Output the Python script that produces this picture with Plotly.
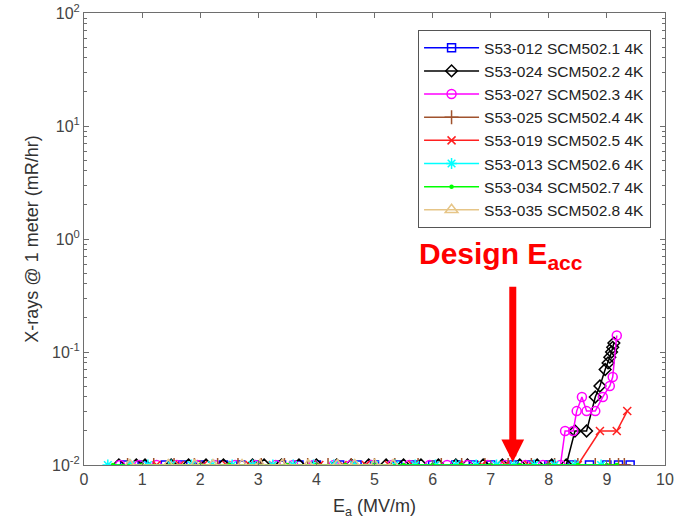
import plotly.graph_objects as go

# ---- data (Eacc in MV/m, X-rays in mR/hr at 1 m) ----
names = ["S53-012 SCM502.1 4K", "S53-024 SCM502.2 4K", "S53-027 SCM502.3 4K",
         "S53-025 SCM502.4 4K", "S53-019 SCM502.5 4K", "S53-013 SCM502.6 4K",
         "S53-034 SCM502.7 4K", "S53-035 SCM502.8 4K"]

e_012 = [0.7, 1.0, 1.4, 1.7, 2.0, 2.4, 2.7, 3.0, 3.4, 3.7, 4.0, 4.4, 4.7, 5.0, 5.4,
         5.7, 6.0, 6.4, 6.7, 7.0, 7.4, 7.7, 8.0, 8.4, 8.7, 9.0, 9.2, 9.4]
x_012 = [0.01] * len(e_012)

e_024 = [0.6, 0.9, 1.05, 1.5, 1.8, 2.1, 2.4, 2.9, 3.1, 3.4, 3.7, 4.0, 4.35, 4.6, 4.9,
         5.2, 5.5, 5.8, 6.1, 6.4, 6.6, 6.87, 7.2, 7.5, 7.8, 8.05, 8.3,
         8.45, 8.65, 8.8, 8.88, 8.97, 9.02, 9.05, 9.08, 9.1, 9.12]
x_024 = [0.01] * 27 + [0.02, 0.02, 0.04, 0.05, 0.07, 0.08, 0.09, 0.10, 0.11, 0.12]

e_027 = [0.62, 0.95, 1.25, 1.6, 1.95, 2.25, 2.6, 2.95, 3.3, 3.6, 3.95, 4.3, 4.6, 4.95,
         5.3, 5.6, 5.95, 6.25, 6.6, 6.95, 7.25, 7.6, 7.9, 8.2,
         8.28, 8.42, 8.48, 8.57, 8.65, 8.8, 8.93, 9.05, 9.1, 9.17]
x_027 = [0.01] * 24 + [0.02, 0.02, 0.03, 0.04, 0.03, 0.03, 0.04, 0.05, 0.06, 0.14]

e_025 = [0.75, 1.2, 1.55, 1.9, 2.3, 2.65, 3.05, 3.45, 3.85, 4.2, 4.6, 5.0, 5.35, 5.75,
         6.15, 6.5, 6.9, 7.3, 7.7, 8.1, 8.5, 8.8, 9.05, 9.2, 9.3]
x_025 = [0.01] * len(e_025)

e_019 = [0.8, 1.25, 1.65, 2.05, 2.45, 2.85, 3.25, 3.6, 4.05, 4.45, 4.85, 5.25, 5.65,
         6.05, 6.45, 6.85, 7.25, 7.65, 8.05, 8.5, 8.88, 9.17, 9.35]
x_019 = [0.01] * 20 + [0.02, 0.02, 0.03]

e_013 = [0.41, 0.8, 1.1, 1.5, 1.85, 2.2, 2.55, 2.9, 3.25, 3.6, 3.95, 4.3, 4.65, 5.0,
         5.35, 5.7, 6.05, 6.4, 6.75, 7.1, 7.4, 7.75, 8.1, 8.45, 8.9]
x_013 = [0.01] * len(e_013)

e_034 = [0.5, 1.0, 1.5, 2.0, 2.5, 3.0, 3.5, 4.0, 4.5, 5.0, 5.5, 6.0, 6.5, 7.0, 7.5,
         8.0, 8.5, 9.0, 9.17]
x_034 = [0.01] * len(e_034)

e_035 = [0.79, 1.45, 1.91, 2.22, 2.72, 3.03, 3.41, 3.86, 4.36, 4.66, 5.0, 5.32]
x_035 = [0.01] * len(e_035)

xs = [e_012, e_024, e_027, e_025, e_019, e_013, e_034, e_035]
ys = [x_012, x_024, x_027, x_025, x_019, x_013, x_034, x_035]

colors = ["#0000FF", "#000000", "#FF00FF", "#A0522D", "#FF2020", "#00FFFF",
          "#00FF00", "#E6C587"]
symbols = ["square-open", "diamond-open", "circle-open", "cross-thin-open",
           "x-thin-open", "asterisk-open", "circle", "triangle-up-open"]
msizes = [8, 9, 9, 10, 8, 9, 3, 11]

x_ticks = list(range(0, 11))
y_tickvals = [0.01, 0.1, 1, 10, 100]
y_ticktext = ["10<sup>-2</sup>", "10<sup>-1</sup>", "10<sup>0</sup>",
              "10<sup>1</sup>", "10<sup>2</sup>"]
y_minor = [m * d for d in (0.01, 0.1, 1, 10) for m in range(2, 10)]

design_eacc = 7.38

fig = go.Figure()
for name, x, y, c, s, ms in zip(names, xs, ys, colors, symbols, msizes):
    fig.add_trace(go.Scatter(
        x=x, y=y, name=name, mode="lines+markers",
        line=dict(color=c, width=1.5),
        marker=dict(symbol=s, size=ms, color=c, line=dict(color=c, width=1.5)),
    ))

axis_col = "#6e6e6e"
fig.update_layout(
    width=676, height=528,
    margin=dict(l=84, r=11, t=13, b=63),
    paper_bgcolor="white", plot_bgcolor="white",
    font=dict(family="Liberation Sans, Arial", color="#333333"),
    showlegend=True,
    legend=dict(x=0.976, y=0.962, xanchor="right", yanchor="top",
                bgcolor="white", bordercolor="#555555", borderwidth=1,
                itemwidth=55,
                font=dict(size=15.5, color="#222222"), tracegroupgap=0),
    xaxis=dict(range=[0, 10], tickvals=x_ticks, ticks="inside", ticklen=5,
               tickcolor=axis_col, showline=True, linecolor=axis_col, linewidth=1,
               mirror="allticks", showgrid=False, zeroline=False, automargin=False,
               ticklabeloverflow="allow",
               tickfont=dict(size=16, color="#444444"),
               title=dict(text="E<sub>a</sub> (MV/m)", font=dict(size=18, color="#333333"),
                          standoff=12)),
    yaxis=dict(type="log", range=[-2, 2], tickmode="array", tickvals=y_tickvals,
               ticktext=y_ticktext, ticks="inside", ticklen=5, tickcolor=axis_col,
               minor=dict(tickmode="array", tickvals=y_minor, ticks="inside",
                          ticklen=3, tickcolor=axis_col, showgrid=False),
               showline=True, linecolor=axis_col, linewidth=1, mirror="allticks",
               showgrid=False, zeroline=False, automargin=False,
               ticklabeloverflow="allow",
               tickfont=dict(size=16, color="#444444"),
               title=dict(text="X-rays @ 1 meter (mR/hr)",
                          font=dict(size=18, color="#333333"), standoff=8)),
)

fig.add_annotation(x=7.18, y=-0.15, xref="x", yref="y", text="<b>Design E<sub>acc</sub></b>",
                   showarrow=False, font=dict(size=30, color="#FF0000",
                                              family="Liberation Sans, Arial"))
fig.add_annotation(x=design_eacc, y=-1.975, xref="x", yref="y", text="",
                   showarrow=True, arrowhead=2, arrowwidth=7, arrowsize=0.65,
                   arrowcolor="#FF0000", ax=0, ay=-177)

fig.write_html("out.html", config={"displayModeBar": False},
               post_script="document.body.style.margin='0';document.body.style.padding='0';")
